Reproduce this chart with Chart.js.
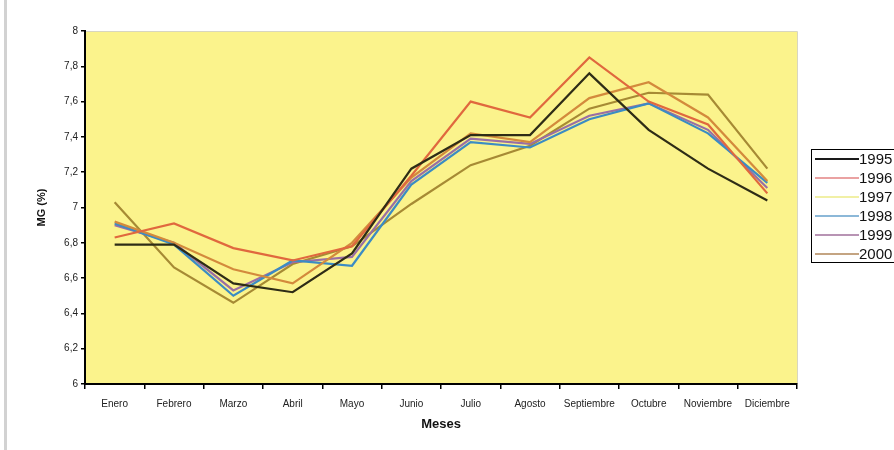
<!DOCTYPE html>
<html lang="es">
<head>
  <meta charset="UTF-8" />
  <title>MG (%) por meses</title>
  <script src="https://cdn.jsdelivr.net/npm/chart.js"></script>
  <style>
    body {
      margin: 0;
      background-color: #ffffff;
      font-family: Arial, "Liberation Sans", sans-serif;
    }

    #wrap {
      position: relative;
      width: 894px;
      height: 450px;
      overflow: hidden;
    }

    #marco {
      position: absolute;
      left: 4px;
      top: 0;
      width: 3px;
      height: 450px;
      background-color: #d2d2d2;
    }

    canvas {
      position: absolute;
      left: 0;
      top: 0;
    }
  </style>
</head>
<body>
  <div id="wrap">
    <div id="marco"></div>
    <canvas id="mgChart" width="894" height="450"></canvas>
  </div>

  <script>
    // datos
    const meses = ["Enero", "Febrero", "Marzo", "Abril", "Mayo", "Junio",
                   "Julio", "Agosto", "Septiembre", "Octubre", "Noviembre", "Diciembre"];
    const anios = ["1995", "1996", "1997", "1998", "1999", "2000"];

    const mg1995 = [6.79, 6.79, 6.57, 6.52, 6.74, 7.22, 7.41, 7.41, 7.76, 7.44, 7.22, 7.04];
    const mg1996 = [6.83, 6.91, 6.77, 6.70, 6.78, 7.18, 7.60, 7.51, 7.85, 7.60, 7.47, 7.08];
    const mg1997 = [6.92, 6.80, 6.65, 6.57, 6.80, 7.17, 7.42, 7.37, 7.62, 7.71, 7.51, 7.15];
    const mg1998 = [6.91, 6.79, 6.50, 6.70, 6.67, 7.13, 7.37, 7.34, 7.50, 7.59, 7.42, 7.14];
    const mg1999 = [6.90, 6.80, 6.53, 6.69, 6.72, 7.15, 7.39, 7.36, 7.52, 7.59, 7.44, 7.11];
    const mg2000 = [7.03, 6.66, 6.46, 6.68, 6.78, 7.02, 7.24, 7.35, 7.56, 7.65, 7.64, 7.22];

    const yTicks = [6, 6.2, 6.4, 6.6, 6.8, 7, 7.2, 7.4, 7.6, 7.8, 8];

    const series = [mg1995, mg1996, mg1997, mg1998, mg1999, mg2000];
    const colores = ["#2e2c16", "#e0683e", "#d38a3c", "#3b8cc4", "#9a6ea4", "#a68a34"];
    const coloresLeyenda = ["#1a1a1a", "#eaa2a2", "#f1f0a6", "#8cb8d8", "#b894b4", "#c4a482"];

    const fondoPlot = {
      id: "fondoPlot",
      beforeDraw(chart) {
        const { ctx, chartArea: a } = chart;
        ctx.save();
        ctx.fillStyle = "#fbf38c";
        ctx.fillRect(a.left, a.top, a.right - a.left, a.bottom - a.top);
        ctx.strokeStyle = "#d8d6c0";
        ctx.lineWidth = 1;
        ctx.beginPath();
        ctx.moveTo(a.left, a.top + 0.5);
        ctx.lineTo(a.right + 0.5, a.top + 0.5);
        ctx.lineTo(a.right + 0.5, a.bottom);
        ctx.stroke();
        ctx.restore();
      }
    };

    const leyenda = {
      id: "leyenda",
      afterDraw(chart) {
        const ctx = chart.ctx;
        const x0 = 811, y0 = 149, alto = 19;
        ctx.save();
        ctx.strokeStyle = "#000";
        ctx.lineWidth = 1;
        ctx.strokeRect(x0 + 0.5, y0 + 0.5, 100, alto * 6 - 1);
        ctx.font = "15px Arial, 'Liberation Sans'";
        ctx.textBaseline = "middle";
        chart.data.datasets.forEach((ds, i) => {
          const y = y0 + 10 + i * alto;
          ctx.strokeStyle = ds.colorLeyenda;
          ctx.lineWidth = 2;
          ctx.beginPath();
          ctx.moveTo(x0 + 4, y);
          ctx.lineTo(x0 + 48, y);
          ctx.stroke();
          ctx.fillStyle = "#111";
          ctx.fillText(ds.label, x0 + 48, y + 1);
        });
        ctx.restore();
      }
    };

    const ctx = document.getElementById("mgChart").getContext("2d");
    const chart = new Chart(ctx, {
      type: "line",
      data: {
        labels: meses,
        datasets: anios.map((a, i) => ({
          label: a,
          data: series[i],
          borderColor: colores[i],
          colorLeyenda: coloresLeyenda[i],
          borderWidth: 2.2,
          pointRadius: 0,
          tension: 0,
          fill: false
        }))
      },
      options: {
        responsive: false,
        animation: false,
        devicePixelRatio: 1,
        layout: {
          padding: { left: 0, right: 97, top: 31, bottom: 0 }
        },
        plugins: {
          legend: { display: false },
          tooltip: { enabled: false }
        },
        scales: {
          x: {
            offset: true,
            afterFit: s => { s.height = 66; },
            grid: {
              offset: true,
              drawOnChartArea: false,
              color: "#000",
              tickLength: 5,
              lineWidth: 1.5
            },
            border: { display: true, color: "#000", width: 2 },
            ticks: {
              color: "#222",
              font: { size: 10, family: "Arial" },
              padding: 9,
              maxRotation: 0,
              autoSkip: false
            },
            title: {
              display: true,
              text: "Meses",
              color: "#111",
              font: { size: 13, weight: "bold", family: "Arial" },
              padding: { top: 0, bottom: 18 }
            }
          },
          y: {
            min: 6,
            max: 8,
            afterFit: s => { s.width = 85; },
            afterBuildTicks: s => { s.ticks = yTicks.map(v => ({ value: v })); },
            grid: {
              drawOnChartArea: false,
              color: "#000",
              tickLength: 4,
              lineWidth: 1.5
            },
            border: { display: true, color: "#000", width: 2 },
            ticks: {
              color: "#222",
              font: { size: 10, family: "Arial" },
              padding: 3,
              callback: v => String(Number(v.toFixed(1))).replace(".", ",")
            },
            title: {
              display: true,
              text: "MG (%)",
              color: "#111",
              font: { size: 11, weight: "bold", family: "Arial" },
              padding: { top: 35, bottom: 0 }
            }
          }
        }
      },
      plugins: [fondoPlot, leyenda]
    });
  </script>
</body>
</html>
